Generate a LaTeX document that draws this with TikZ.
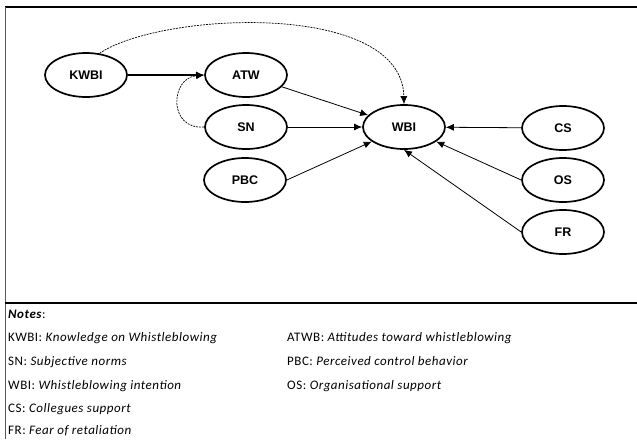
\documentclass[tikz,border=0pt]{standalone}
\usepackage{fontspec}
\setmainfont{Carlito}[LetterSpace=4]
\newfontfamily\labfont{Liberation Sans}
\usetikzlibrary{arrows.meta,shapes.geometric}
\begin{document}
\begin{tikzpicture}[x=1pt,y=-1pt,
  var/.style={ellipse,draw,line width=1.7pt,minimum width=82pt,minimum height=44pt,inner sep=0pt,font=\labfont\fontsize{12.5}{14}\selectfont\bfseries},
  arr/.style={line width=0.8pt,-{Latex[length=8pt,width=7pt]}},
  darr/.style={line width=0.7pt,dashed,dash pattern=on 2pt off 1pt,-{Latex[length=8pt,width=7pt]}},
  note/.style={anchor=base west,inner sep=0pt,font=\fontsize{13}{15}\selectfont}]
\useasboundingbox (0,0) rectangle (637,439);
\fill[white] (0,0) rectangle (637,439);
% frame
\draw[line width=1.2pt] (5,7) -- (637,7);
\draw[line width=1pt,gray!70!black] (5.5,7) -- (5.5,439);
\draw[line width=1.8pt] (5,303) -- (637,303);
% nodes
\node[var] (KWBI) at (86,75) {KWBI};
\node[var] (ATW) at (246,75) {ATW};
\node[var] (SN) at (246,127) {SN};
\node[var] (PBC) at (245,180) {PBC};
\node[var] (WBI) at (404,127) {WBI};
\node[var] (CS) at (563,128) {CS};
\node[var] (OS) at (563,180) {OS};
\node[var] (FR) at (563,232) {FR};
% connectors
\draw[arr,line width=1.3pt] (KWBI) -- (ATW);
\draw[arr] (ATW) -- (WBI);
\draw[arr] (SN) -- (WBI);
\draw[arr] (PBC.east) -- (WBI);
\draw[arr] (CS) -- (WBI);
\draw[arr] (OS.west) -- (WBI);
\draw[arr] (FR.west) -- (WBI.south);
\draw[darr] (KWBI.58) .. controls (160,12) and (402,0) .. (WBI.north);
\draw[darr] (SN.west) .. controls (168,130) and (170,78) .. (ATW.west);
% notes
\node[note] (n0) at (8,318) {\textbf{\textit{Notes}}:};
\node[note] (n1) at (8,341) {KWBI: \textit{Knowledge on Whistleblowing}};
\node[note] (n2) at (8,365) {SN: \textit{Subjective norms}};
\node[note] (n3) at (8,389) {WBI: \textit{Whistleblowing intention}};
\node[note] (n4) at (8,412) {CS: \textit{Collegues support}};
\node[note] (n5) at (8,434) {FR: \textit{Fear of retaliation}};
\node[note] (n6) at (287,341) {ATWB: \textit{Attitudes toward whistleblowing}};
\node[note] (n7) at (287,365) {PBC: \textit{Perceived control behavior}};
\node[note] (n8) at (287,389) {OS: \textit{Organisational support}};
\end{tikzpicture}
\end{document}
